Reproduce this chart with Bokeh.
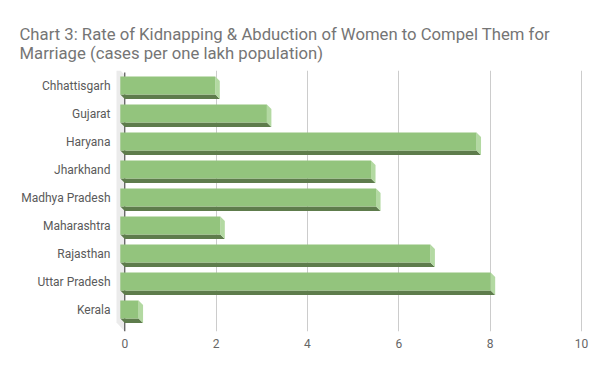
from bokeh.plotting import figure
from bokeh.models import Range1d, FixedTicker, Title
from bokeh.embed import file_html
from bokeh.resources import INLINE

categories = ["Chhattisgarh", "Gujarat", "Haryana", "Jharkhand", "Madhya Pradesh",
              "Maharashtra", "Rajasthan", "Uttar Pradesh", "Kerala"]
values = [2.08, 3.21, 7.80, 5.49, 5.60, 2.19, 6.79, 8.11, 0.40]
x_ticks = [0, 2, 4, 6, 8, 10]
title_lines = ["Chart 3: Rate of Kidnapping & Abduction of Women to Compel Them for",
               "Marriage (cases per one lakh population)"]

FONT = "Roboto"
PXU = 45.67   # px per x unit
PYU = 28.0    # px per category
X0 = 124.3    # page x of value 0
Y0 = 85.0     # page y of first category centre

def dx_px(px):
    return (px - X0) / PXU

def dy_px(py):
    return (py - Y0) / PYU

p = figure(width=592, height=363, output_backend="svg", toolbar_location=None,
           x_range=Range1d(dx_px(114), dx_px(590)),
           y_range=Range1d(dy_px(331), dy_px(70)),
           min_border_left=114, min_border_right=2, min_border_top=70, min_border_bottom=32,
           title=None)
p.outline_line_color = None
p.background_fill_color = "white"
p.border_fill_color = "white"

# grid
p.xgrid.ticker = FixedTicker(ticks=x_ticks[1:])
p.xgrid.grid_line_color = "#cccccc"
p.ygrid.grid_line_color = None

# x axis
p.xaxis.ticker = FixedTicker(ticks=x_ticks)
p.xaxis.axis_line_color = None
p.xaxis.major_tick_line_color = None
p.xaxis.minor_tick_line_color = None
p.xaxis.major_label_text_font = FONT
p.xaxis.major_label_text_font_size = "12px"
p.xaxis.major_label_text_color = "#666666"
p.xaxis.major_label_standoff = 1

# y axis
p.yaxis.ticker = FixedTicker(ticks=list(range(len(categories))))
p.yaxis.major_label_overrides = {i: c for i, c in enumerate(categories)}
p.yaxis.axis_line_color = None
p.yaxis.major_tick_line_color = None
p.yaxis.minor_tick_line_color = None
p.yaxis.major_label_text_font = FONT
p.yaxis.major_label_text_font_size = "12px"
p.yaxis.major_label_text_color = "#5a5a5a"
p.yaxis.major_label_standoff = -2

dx = 4.5 / PXU
dy = 4.5 / PYU
h = 18.0 / PYU

# left wall
p.patch([dx_px(116), dx_px(120), dx_px(124.3), dx_px(124.3), dx_px(116)],
        [dy_px(70), dy_px(70), dy_px(74.5), dy_px(331), dy_px(322)],
        fill_color="#ebebeb", line_color=None)
# zero axis line
p.segment(x0=[0], y0=[dy_px(72)], x1=[0], y1=[dy_px(331)], line_color="#333333", line_width=1)

n = len(categories)
ys = list(range(n))
# bottom faces
p.patches(xs=[[-dx, v - dx, v, 0] for v in values],
          ys=[[y + h / 2, y + h / 2, y + h / 2 + dy, y + h / 2 + dy] for y in ys],
          fill_color="#5e7c4c", line_color=None)
# right faces
p.patches(xs=[[v - dx, v, v, v - dx] for v in values],
          ys=[[y - h / 2, y - h / 2 + dy, y + h / 2 + dy, y + h / 2] for y in ys],
          fill_color="#b3d9a2", line_color=None)
# front faces
p.hbar(y=ys, left=[-dx] * n, right=[v - dx for v in values], height=h,
       fill_color="#93c47d", line_color=None)

# title
p.add_layout(Title(text="\n".join(title_lines), align="left", offset=19 - 114, standoff=15,
                   text_font=FONT, text_font_size="16.7px", text_color="#757575",
                   text_font_style="normal", text_line_height=1.02), "above")

open("out.html", "w").write(file_html(p, INLINE))
